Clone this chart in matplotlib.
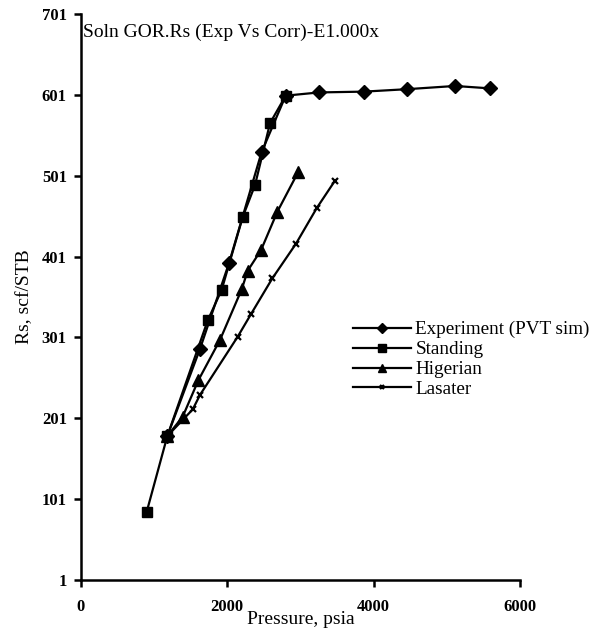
import matplotlib
matplotlib.use("Agg")
import matplotlib.pyplot as plt

plt.rcParams['font.family'] = ['Liberation Serif', 'DejaVu Serif']

exp_p = [1183, 1630, 2026, 2470, 2800, 3255, 3870, 4454, 5113, 5592]
exp_rs = [179, 287, 393, 530, 600, 604, 605, 608, 612, 609]

std_p = [902, 1183, 1735, 1926, 2213, 2381, 2586, 2800]
std_rs = [85.5, 179, 322, 360, 450, 489.5, 566, 600]

hig_p = [1183, 1393, 1607, 1903, 2199, 2281, 2463, 2686, 2973]
hig_rs = [179, 203, 248, 298, 360.5, 383.5, 409, 456.5, 506]

las_p = [1183, 1530, 1630, 2145, 2327, 2617, 2941, 3224, 3474]
las_rs = [179, 212, 230, 302, 330, 374, 417, 461, 495]

x_ticks = [0, 2000, 4000, 6000]
y_ticks = [1, 101, 201, 301, 401, 501, 601, 701]

fig = plt.figure(figsize=(6.0, 6.32), dpi=100)
ax = fig.add_axes([80.7/600, 52/632, (520-80.7)/600, (580-14)/632])

lw = 1.6
ax.plot(exp_p, exp_rs, color='black', lw=lw, marker='D', ms=7, label='Experiment (PVT sim)')
ax.plot(std_p, std_rs, color='black', lw=lw, marker='s', ms=7, label='Standing')
ax.plot(hig_p, hig_rs, color='black', lw=lw, marker='^', ms=8, label='Higerian')
ax.plot(las_p, las_rs, color='black', lw=lw, marker='x', ms=4, mew=1.6, label='Lasater')

ax.set_xlim(0, 6000)
ax.set_ylim(1, 701)
ax.set_xticks(x_ticks)
ax.set_yticks(y_ticks)
for s in ['top', 'right']:
    ax.spines[s].set_visible(False)
for s in ['left', 'bottom']:
    ax.spines[s].set_linewidth(1.8)
ax.tick_params(axis='both', direction='out', width=1.8, length=5, labelsize=12)
ax.tick_params(axis='x', pad=9)
ax.tick_params(axis='y', pad=5)
for lbl in ax.get_xticklabels() + ax.get_yticklabels():
    lbl.set_fontweight('bold')

ax.set_xlabel('Pressure, psia', fontsize=14, labelpad=-3)
ax.set_ylabel('Rs, scf/STB', fontsize=14, labelpad=6)

ax.text(0.005, 0.967, 'Soln GOR.Rs (Exp Vs Corr)-E1.000x', transform=ax.transAxes,
        fontsize=14, va='center', ha='left')

leg = ax.legend(loc='upper left', bbox_to_anchor=(353/600, 1 - 321/632),
                bbox_transform=fig.transFigure, frameon=False, fontsize=13.8,
                handlelength=3.0, handletextpad=0.25, labelspacing=0.13,
                borderpad=0, borderaxespad=0, markerscale=0.75)

fig.savefig('out.png', dpi=100)
